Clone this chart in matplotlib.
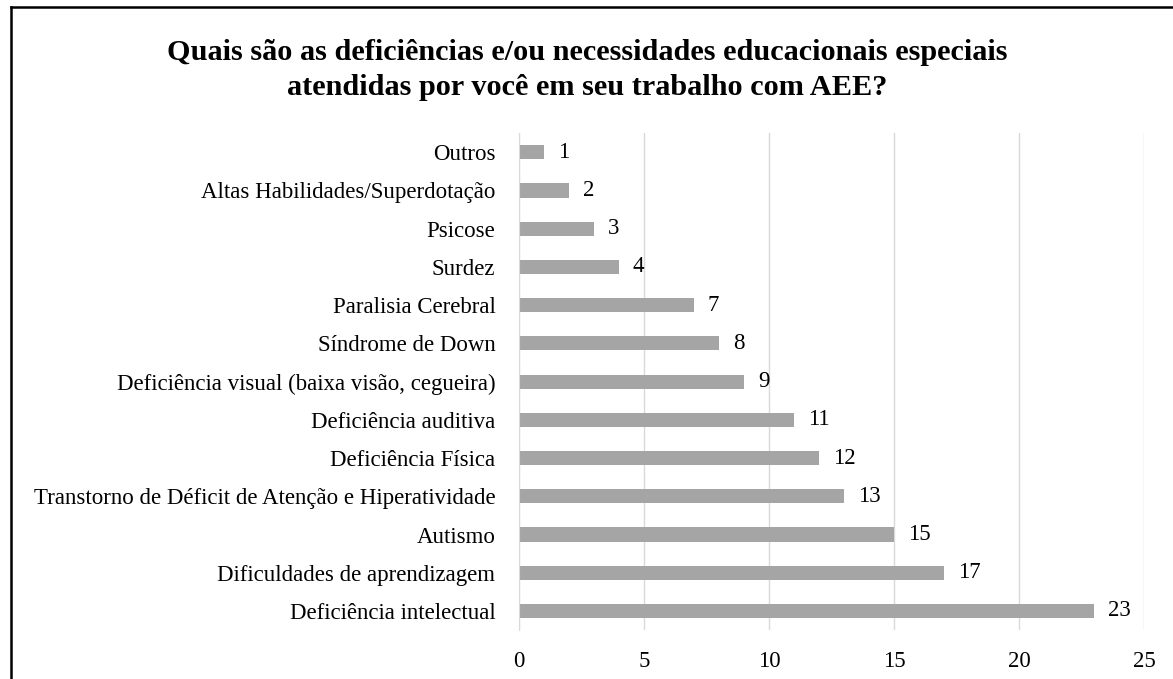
import matplotlib.pyplot as plt
from matplotlib.lines import Line2D

categorias = ['Deficiência intelectual', 'Dificuldades de aprendizagem', 'Autismo',
              'Transtorno de Déficit de Atenção e Hiperatividade', 'Deficiência Física',
              'Deficiência auditiva', 'Deficiência visual (baixa visão, cegueira)',
              'Síndrome de Down', 'Paralisia Cerebral', 'Surdez', 'Psicose',
              'Altas Habilidades/Superdotação', 'Outros']
valores = [23, 17, 15, 13, 12, 11, 9, 8, 7, 4, 3, 2, 1]
ticks_x = [0, 5, 10, 15, 20, 25]

plt.rcParams['font.family'] = ['Liberation Serif', 'DejaVu Serif']

fig = plt.figure(figsize=(11.73, 6.79), dpi=100)
ax = fig.add_axes([0.4425, 0.072, 0.533, 0.732])

pos = list(range(len(categorias)))
ax.barh(pos, valores, height=0.37, color='#a5a5a5', zorder=2)
for p, v in zip(pos, valores):
    ax.text(v + 0.55, p, str(v), va='center', ha='left', fontsize=16.5)

ax.set_xlim(0, 25)
ax.set_ylim(-0.5, len(categorias) - 0.5)
ax.set_xticks(ticks_x)
ax.set_yticks(pos)
ax.set_yticklabels(categorias, fontsize=16.5)
ax.tick_params(axis='x', labelsize=16.5, length=0, pad=15)
ax.tick_params(axis='y', length=0, pad=17)
ax.grid(axis='x', color='#d9d9d9', linewidth=1, zorder=0)
for s in ax.spines.values():
    s.set_visible(False)
ax.spines['left'].set_visible(True)
ax.spines['left'].set_color('#d9d9d9')

fig.text(0.501, 0.897, 'Quais são as deficiências e/ou necessidades educacionais especiais\n'
         'atendidas por você em seu trabalho com AEE?',
         ha='center', va='center', fontsize=21.8, fontweight='bold', linespacing=1.42)

# moldura
fig.add_artist(Line2D([0.009, 1.0], [0.989, 0.989], transform=fig.transFigure, color='black', linewidth=1.8))
fig.add_artist(Line2D([0.009, 0.009], [0.0, 0.989], transform=fig.transFigure, color='black', linewidth=1.8))

fig.savefig('out.png', dpi=100)
